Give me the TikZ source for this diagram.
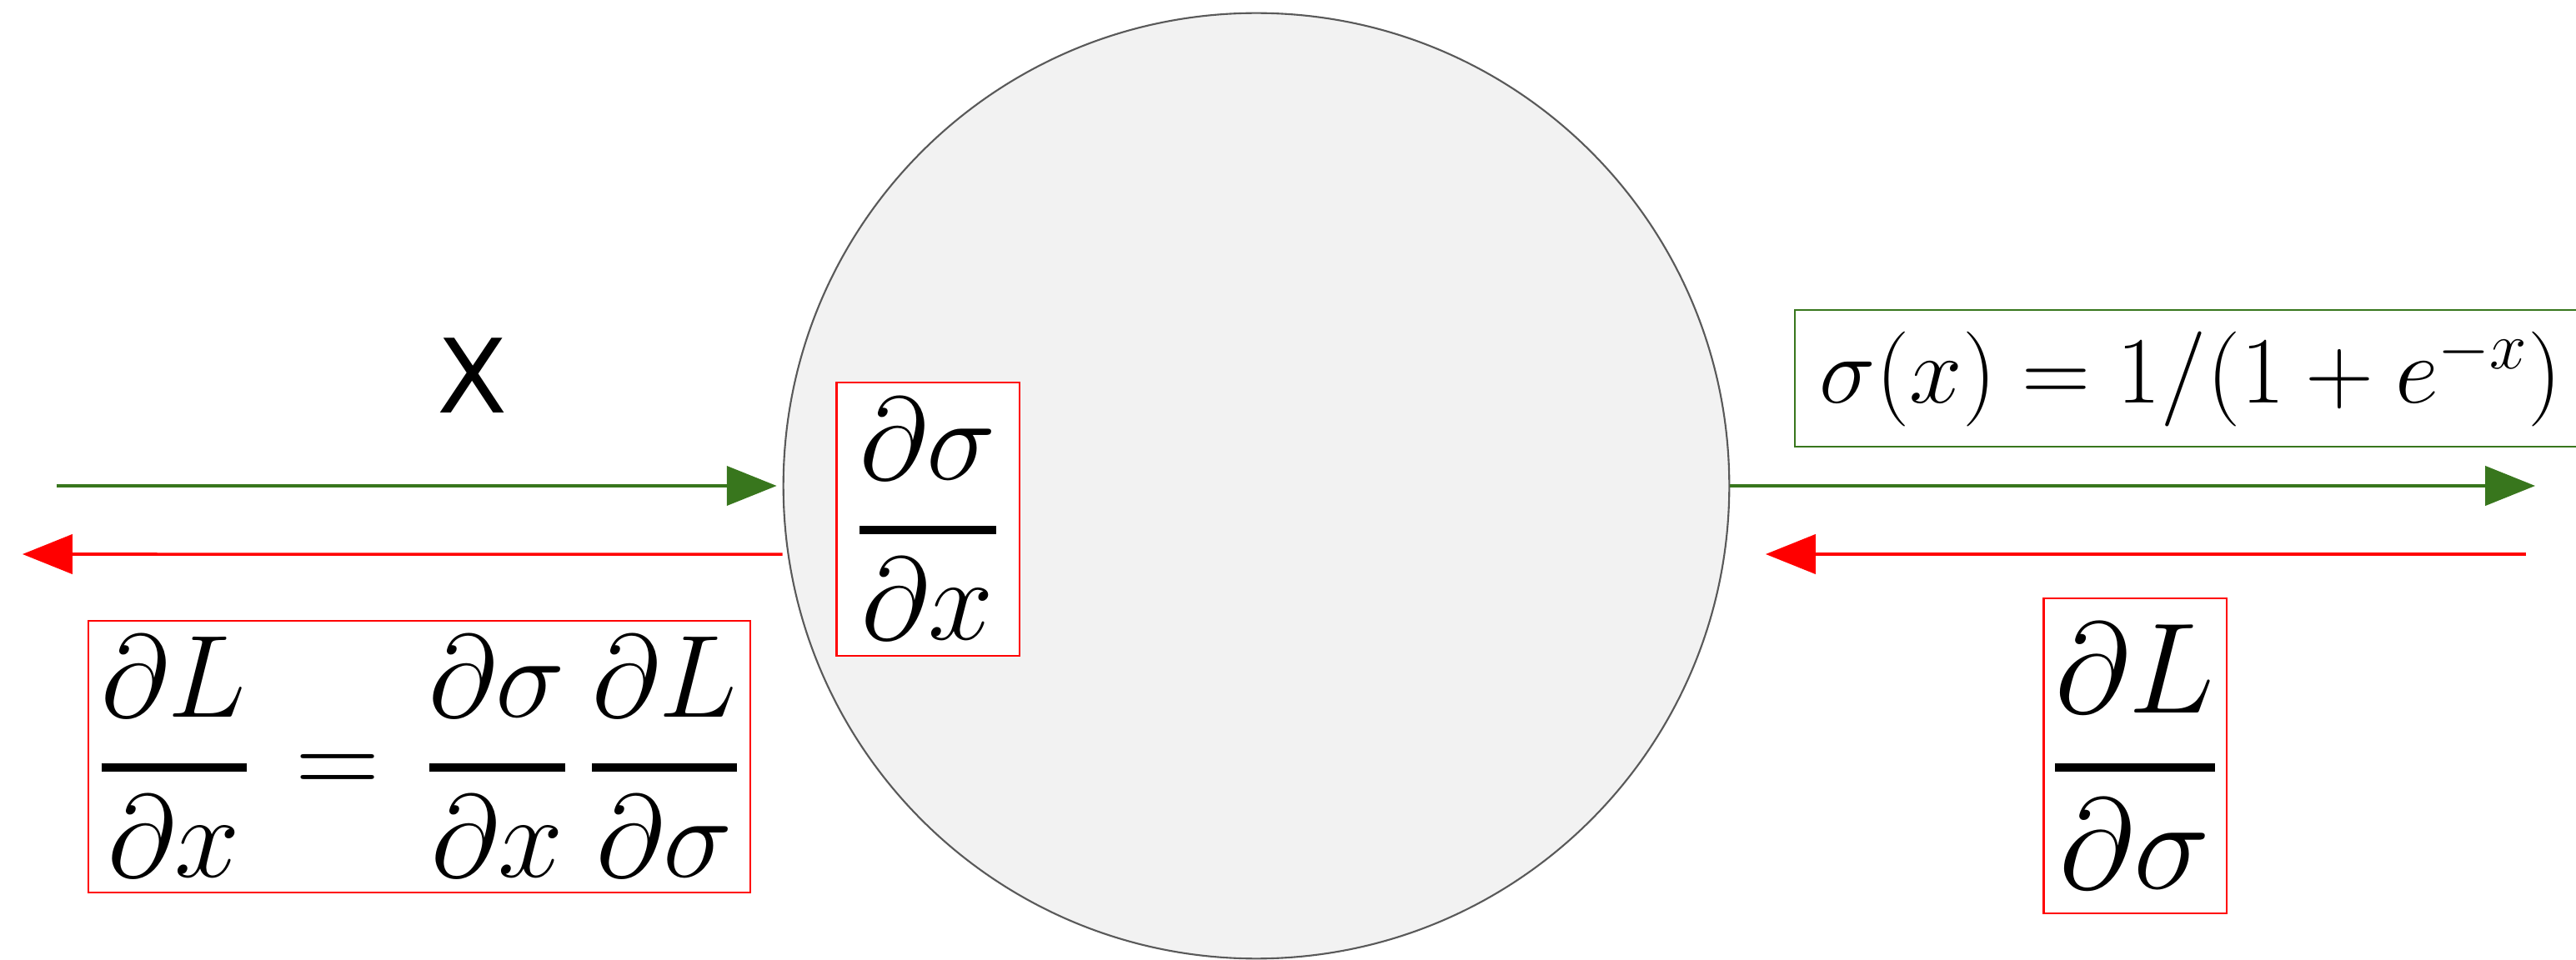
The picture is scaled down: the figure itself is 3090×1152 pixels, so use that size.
\RequirePackage{fix-cm}
\documentclass[tikz,border=0pt]{standalone}
\usepackage[no-math]{fontspec}
\usepackage{amsmath}
\usetikzlibrary{arrows.meta,positioning}
\newfontfamily\labelfont{DejaVu Sans}
\definecolor{fwdgreen}{HTML}{38761D}
\definecolor{bwdred}  {HTML}{FF0000}
\definecolor{cellgray}{HTML}{F2F2F2}
\definecolor{rimgray} {HTML}{595959}
\newcommand\pfrac[2]{\genfrac{}{}{2.8pt}{0}{#1}{#2}}

\begin{document}
\begin{tikzpicture}[x=0.01cm, y=-0.01cm,
    fwd/.style={color=fwdgreen, line width=1pt, -{Triangle[length=17pt, width=13.4pt]}},
    bwd/.style={color=bwdred, line width=1pt, -{Triangle[length=17pt, width=13.4pt]}},
    redbox/.style={draw=bwdred, fill=white, line width=0.6pt, inner sep=0pt},
    greenbox/.style={draw=fwdgreen, fill=white, line width=0.6pt, inner sep=0pt}]
  \clip (0,0) rectangle (3090,1152);
  % the sigmoid unit
  \node[circle, draw=rimgray, fill=cellgray, line width=0.6pt,
        minimum size=11.34cm, inner sep=0pt] (neuron) at (1507,583) {};
  \node[font=\labelfont\fontsize{35}{42}\selectfont] (xlabel) at (567,451) {X};
  \coordinate (xin) at (68,583);
  \coordinate (gradout) at (27,665);
  \coordinate (yout) at (3041,583);
  \coordinate (gradin) at (3030,665);
  \coordinate (gradend) at (2118,665);
  % forward and backward passes
  \draw[fwd] (xin) -- ([xshift=-2pt]neuron.west);
  \draw[bwd] ([yshift=-0.82cm]neuron.west) -- (gradout);
  \draw[fwd] (neuron.east) -- (yout);
  \draw[bwd] (gradin) -- (gradend);
  % formulas
  \node[redbox, minimum width=7.93cm, minimum height=3.26cm,
        font=\fontsize{40}{48}\selectfont] (chain) at (503,908)
    {$\pfrac{\partial L}{\partial x} \mkern2mu=\mkern2mu \pfrac{\partial\sigma}{\partial x}\,\pfrac{\partial L}{\partial\sigma}$};
  \node[redbox, minimum width=2.19cm, minimum height=3.28cm,
        font=\fontsize{40}{48}\selectfont] (localgrad) at (1113,623)
    {$\pfrac{\partial\sigma}{\partial x}$};
  \node[greenbox, minimum width=9.5cm, minimum height=1.64cm,
        font=\fontsize{32.4}{39}\selectfont] (sigmoid) at (2628,454)
    {$\sigma(x) = 1/(1+e^{-x})$};
  \node[redbox, minimum width=2.19cm, minimum height=3.78cm,
        font=\fontsize{44}{53}\selectfont] (upgrad) at (2561,907)
    {$\pfrac{\partial L}{\partial\sigma}$};
\end{tikzpicture}
\end{document}
